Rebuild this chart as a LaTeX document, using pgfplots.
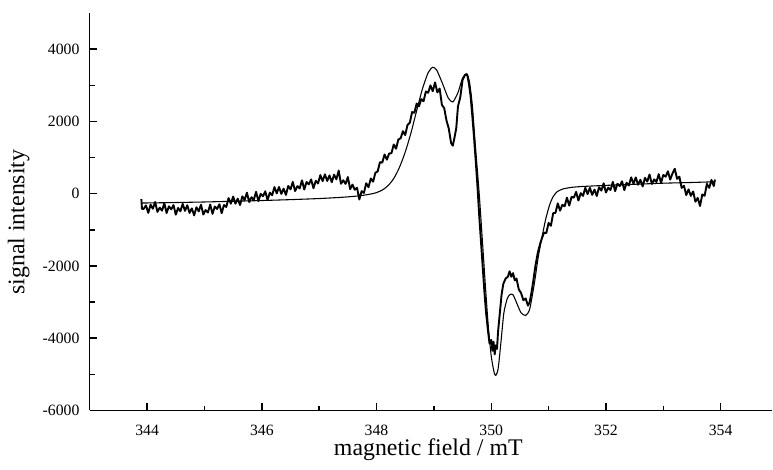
\documentclass[border=0pt]{standalone}
\usepackage{fontspec}
\setmainfont{Liberation Serif}
\usepackage{pgfplots}
\pgfplotsset{compat=1.18}
\begin{document}
\begin{tikzpicture}
\begin{axis}[
  scale only axis,
  width=286.4pt, height=166.7pt,
  xmin=343, xmax=354.9, ymin=-6000, ymax=5000,
  axis x line*=bottom, axis y line*=left,
  axis line style={line width=0.6pt},
  xtick={344,346,...,354}, minor x tick num=1,
  ytick={-6000,-4000,...,4000}, minor y tick num=1,
  tick align=inside,
  major tick length=3pt, minor tick length=2pt,
  every tick/.style={black, line width=0.6pt},
  scaled ticks=false,
  /pgf/number format/assume math mode=true,
  /pgf/number format/1000 sep={},
  ticklabel style={font=\fontsize{6.6}{7}\selectfont},
  xticklabel style={yshift=-2.5pt},
  yticklabel style={xshift=-0.8pt},
  xlabel={magnetic field / mT},
  ylabel={signal intensity},
  every axis x label/.style={at={(axis description cs:0.496,-0.10)}, anchor=center, font=\fontsize{10}{12}\selectfont},
  every axis y label/.style={at={(axis description cs:-0.104,0.474)}, anchor=center, rotate=90, font=\fontsize{10}{12}\selectfont},
  clip=false,
]
% simulated spectrum
\addplot[black, line width=0.45pt, smooth, tension=0.4] coordinates {
(343.9,-260) (344.5,-245) (345.0,-230) (345.5,-210) (346.0,-190) (346.5,-165)
(347.0,-135) (347.4,-100) (347.7,-60) (347.9,-10) (348.0,30) (348.1,100)
(348.2,220) (348.3,420) (348.4,730) (348.5,1150) (348.6,1680) (348.7,2300)
(348.8,2900) (348.9,3350) (348.98,3500) (349.05,3420) (349.15,3050) (349.25,2650)
(349.33,2540) (349.42,2800) (349.5,3200) (349.57,3320) (349.62,3100) (349.67,2450)
(349.72,1400) (349.79,0) (349.85,-1400) (349.9,-2600) (349.95,-3700) (350.0,-4500)
(350.05,-4950) (350.08,-5030) (350.12,-4850) (350.17,-4100) (350.22,-3300) (350.28,-2900)
(350.33,-2790) (350.38,-2800) (350.45,-3050) (350.52,-3300) (350.6,-3370) (350.67,-3200)
(350.75,-2500) (350.82,-1750) (350.88,-1240) (350.95,-700) (351.02,-300) (351.08,-80)
(351.15,55) (351.25,130) (351.4,175) (351.6,200) (352.0,230) (352.5,260)
(353.0,290) (353.5,310) (353.9,330)
};
% experimental spectrum
\addplot[black, line width=0.8pt, line join=round] coordinates {
(343.90,-150) (343.91,-420) (343.94,-420) (343.98,-325) (344.02,-532) (344.06,-305)
(344.10,-418) (344.14,-231) (344.18,-504) (344.22,-388) (344.26,-471) (344.30,-264)
(344.34,-537) (344.38,-350) (344.42,-434) (344.46,-317) (344.50,-580) (344.54,-394)
(344.58,-488) (344.62,-282) (344.66,-476) (344.70,-320) (344.74,-534) (344.78,-408)
(344.82,-602) (344.86,-376) (344.90,-490) (344.94,-304) (344.98,-578) (345.02,-454)
(345.06,-522) (345.10,-300) (345.14,-558) (345.18,-356) (345.22,-424) (345.26,-292)
(345.30,-540) (345.34,-314) (345.38,-368) (345.42,-122) (345.46,-276) (345.50,-80)
(345.54,-279) (345.58,-138) (345.62,-316) (345.66,-75) (345.70,-174) (345.74,27)
(345.78,-232) (345.82,-100) (345.86,-169) (345.90,52) (345.94,-207) (345.98,-6)
(346.02,-72) (346.06,65) (346.10,-178) (346.14,29) (346.18,-44) (346.22,182)
(346.26,9) (346.30,186) (346.34,-7) (346.38,140) (346.42,-34) (346.46,213)
(346.50,120) (346.54,326) (346.58,72) (346.62,208) (346.66,144) (346.70,370)
(346.74,116) (346.78,322) (346.82,258) (346.86,394) (346.90,150) (346.94,356)
(346.98,282) (347.02,513) (347.06,349) (347.10,535) (347.14,351) (347.18,507)
(347.22,319) (347.26,528) (347.30,397) (347.34,640) (347.38,274) (347.42,373)
(347.46,271) (347.50,460) (347.54,126) (347.58,252) (347.62,108) (347.66,164)
(347.70,-160) (347.74,70) (347.78,20) (347.82,290) (347.86,180) (347.90,420)
(347.94,330) (347.98,580) (348.02,617) (348.06,874) (348.10,859) (348.14,1085)
(348.18,942) (348.22,1111) (348.26,1121) (348.30,1362) (348.34,1246) (348.38,1498)
(348.42,1534) (348.46,1730) (348.50,1622) (348.54,1904) (348.58,1962) (348.62,2260)
(348.66,2238) (348.70,2496) (348.74,2421) (348.78,2619) (348.82,2560) (348.86,2827)
(348.90,2793) (348.94,2998) (348.98,2835) (349.02,3080) (349.06,2804) (349.10,2912)
(349.14,2456) (349.18,2368) (349.22,2024) (349.26,1800) (349.30,1400) (349.33,1330)
(349.36,1560) (349.39,1812) (349.42,2420) (349.46,2668) (349.50,3150) (349.54,3280)
(349.58,3300) (349.61,3050) (349.64,2700) (349.67,2150) (349.70,1550) (349.73,900)
(349.76,200) (349.79,-600) (349.82,-1300) (349.85,-2000) (349.88,-2700) (349.91,-3300)
(349.94,-3750) (349.97,-4150) (350.00,-4050) (350.02,-4350) (350.04,-4100) (350.06,-4450)
(350.08,-4200) (350.10,-4300) (350.12,-3800) (350.15,-3300) (350.18,-2800) (350.21,-2500)
(350.25,-2350) (350.29,-2300) (350.32,-2150) (350.35,-2300) (350.38,-2200) (350.41,-2400)
(350.44,-2350) (350.48,-2650) (350.52,-2750) (350.56,-2950) (350.60,-2900) (350.64,-3100)
(350.67,-3000) (350.70,-2750) (350.73,-2450) (350.77,-2000) (350.81,-1650) (350.85,-1400)
(350.88,-1250) (350.92,-1080) (350.96,-1090) (351.00,-810) (351.04,-890) (351.08,-540)
(351.12,-530) (351.16,-270) (351.20,-470) (351.24,-310) (351.28,-350) (351.32,-110)
(351.36,-330) (351.40,-90) (351.44,-110) (351.48,50) (351.52,-190) (351.56,14)
(351.60,-61) (351.64,163) (351.68,-12) (351.72,162) (351.76,-34) (351.80,111)
(351.84,-65) (351.88,180) (351.92,84) (351.96,288) (352.00,33) (352.04,167)
(352.08,102) (352.12,326) (352.16,70) (352.20,275) (352.24,209) (352.28,344)
(352.32,98) (352.36,302) (352.40,227) (352.44,451) (352.48,276) (352.52,450)
(352.56,247) (352.60,384) (352.64,201) (352.68,438) (352.72,335) (352.76,532)
(352.80,269) (352.84,396) (352.88,323) (352.92,540) (352.96,300) (353.00,520)
(353.04,470) (353.08,620) (353.12,390) (353.16,560) (353.20,690) (353.24,410)
(353.28,470) (353.32,160) (353.36,220) (353.40,-40) (353.44,120) (353.48,-60)
(353.52,60) (353.56,-223) (353.60,-117) (353.64,-340) (353.68,-20) (353.72,-60)
(353.76,270) (353.80,160) (353.84,380) (353.88,210) (353.90,390)
};
\path (rel axis cs:0,1) -- ++(0pt,5.5pt);
\end{axis}
\end{tikzpicture}
\end{document}
